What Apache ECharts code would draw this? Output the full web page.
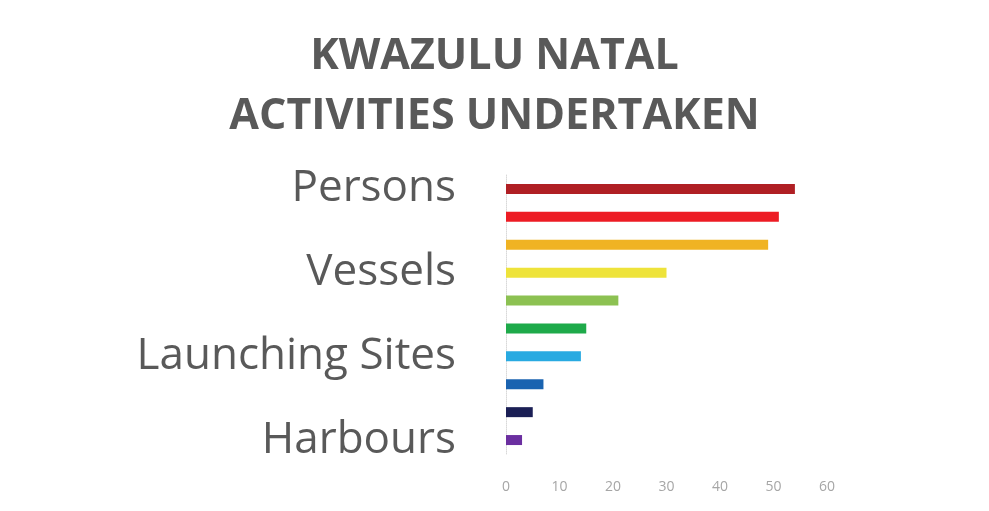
<!DOCTYPE html>
<html>
<head>
<meta charset="utf-8">
<script src="https://cdn.jsdelivr.net/npm/echarts@6/dist/echarts.min.js"></script>
<style>html,body{margin:0;padding:0;background:#fff;}#c{width:989px;height:511px;}</style>
</head>
<body>
<div id="c"></div>
<script>
const titleLines = ["KWAZULU NATAL", "ACTIVITIES UNDERTAKEN"];
const categories = ["Persons", "", "", "Vessels", "", "", "Launching Sites", "", "", "Harbours"];
const values = [54, 51, 49, 30, 21, 15, 14, 7, 5, 3];
const barColors = ["#B01F24", "#ED1C24", "#F0B323", "#EEE33A", "#8CC152", "#1EAA4A", "#29AAE1", "#1A63B0", "#1B1F55", "#6B2FA0"];
const xTicks = [0, 10, 20, 30, 40, 50, 60];

const chart = echarts.init(document.getElementById('c'));
chart.setOption({
  backgroundColor: '#ffffff',
  animation: false,
  title: {
    text: titleLines.join('\n'),
    left: 'center',
    top: 22,
    textStyle: {
      fontFamily: 'Open Sans',
      fontWeight: 'bold',
      fontSize: 43,
      lineHeight: 60,
      color: '#595959'
    }
  },
  grid: { left: 506, right: 162, top: 175, bottom: 57, containLabel: false },
  xAxis: {
    type: 'value',
    min: xTicks[0],
    max: xTicks[xTicks.length - 1],
    interval: 10,
    axisLine: { show: false },
    axisTick: { show: false },
    splitLine: { show: false },
    axisLabel: { fontFamily: 'Open Sans', fontSize: 14, color: '#a6a6a6', margin: 26 }
  },
  yAxis: {
    type: 'category',
    inverse: true,
    data: categories,
    axisLine: { show: true, lineStyle: { color: '#d9d9d9', width: 1, type: 'dotted' } },
    axisTick: { show: false },
    axisLabel: { interval: 0, fontFamily: 'Open Sans', fontSize: 44, color: '#595959', margin: 50 }
  },
  series: [{
    type: 'bar',
    barWidth: 10,
    data: values.map((v, i) => ({ value: v, itemStyle: { color: barColors[i] } }))
  }]
});
</script>
</body>
</html>
